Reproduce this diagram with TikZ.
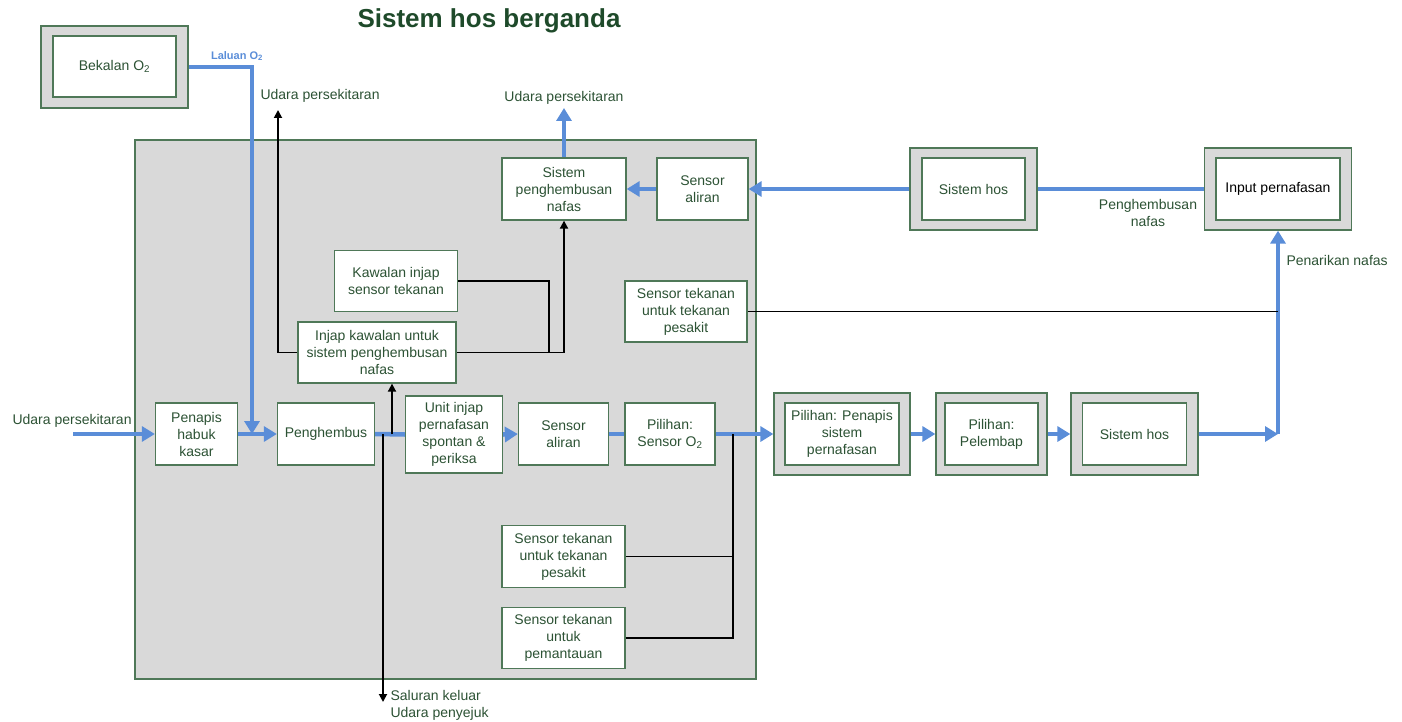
\documentclass[tikz,border=0pt]{standalone}
\usepackage{fontspec}
\setmainfont{Liberation Sans}
\usetikzlibrary{arrows.meta}
\definecolor{hos-text}{HTML}{2C5234}
\definecolor{hos-title}{HTML}{1E4A2A}
\definecolor{hos-edge}{HTML}{4F7858}
\definecolor{hos-grey}{HTML}{D9D9D9}
\definecolor{hos-blue}{HTML}{5A8DD8}

\begin{document}
\begin{tikzpicture}[x=1pt, y=-1pt,
        every node/.style={font=\fontsize{14}{17}\selectfont, text=hos-text, align=center},
        box/.style={draw=hos-edge, line width=1.3pt, fill=white, inner sep=2pt},
        outerbox/.style={draw=hos-edge, line width=1.3pt, fill=hos-grey},
        blueflow/.style={draw=hos-blue, line width=4.5pt},
        blueflowarrow/.style={blueflow, -{Triangle[length=13pt,width=15pt]}},
        wire/.style={draw=black, line width=1.8pt},
        wirearrow/.style={wire, -{Triangle[length=8pt,width=8pt]}}]
      \useasboundingbox (0,0) rectangle (1402,722);
      \node[font=\fontsize{26}{30}\selectfont\bfseries, text=hos-title] (title) at (489,21) {Sistem hos berganda};
      \node[outerbox, minimum width=621, minimum height=539] (cabinet) at (445.5,409.5) {};
      % supply
      \node[outerbox, minimum width=147, minimum height=82] (o2box) at (114.5,67) {};
      \node[box, minimum width=123, minimum height=61] (o2) at (114.5,66.5) {Bekalan O\textsubscript{2}};
      % main row
      \node[box, minimum width=82, minimum height=62] (penapis) at (196.5,434) {Penapis\\habuk\\kasar};
      \node[box, minimum width=97, minimum height=62] (penghembus) at (326,434) {Penghembus};
      \node[box, minimum width=97, minimum height=77] (unitinjap) at (454,434.5) {Unit injap\\pernafasan\\spontan \&\\periksa};
      \node[box, minimum width=90, minimum height=62] (aliran) at (563.5,434) {Sensor\\aliran};
      \node[box, minimum width=90, minimum height=62] (sensoro) at (670,434) {Pilihan:\\Sensor O\textsubscript{2}};
      \node[outerbox, minimum width=136, minimum height=82] (penapissisbox) at (842,434) {};
      \node[box, minimum width=114, minimum height=62] (penapissis) at (842,434) {Pilihan: Penapis\\sistem\\pernafasan};
      \node[outerbox, minimum width=111, minimum height=82] (pelembapbox) at (991.5,434) {};
      \node[box, minimum width=93, minimum height=62] (pelembap) at (991.5,434) {Pilihan:\\Pelembap};
      \node[outerbox, minimum width=127, minimum height=82] (hosbbox) at (1134.5,434) {};
      \node[box, minimum width=104, minimum height=62] (hosb) at (1134.5,434) {Sistem hos};
      % top row
      \node[box, minimum width=124, minimum height=62] (hembus) at (564,189) {Sistem\\penghembusan\\nafas};
      \node[box, minimum width=91, minimum height=62] (aliranatas) at (702.5,189) {Sensor\\aliran};
      \node[outerbox, minimum width=127, minimum height=82] (hosabox) at (973.5,189) {};
      \node[box, minimum width=103, minimum height=62] (hosa) at (973.5,189) {Sistem hos};
      \node[outerbox, minimum width=147, minimum height=82] (inputbox) at (1278,189) {};
      \node[box, minimum width=124, minimum height=62, text=black] (input) at (1278,189) {Input pernafasan};
      % valves and sensors
      \node[box, minimum width=123, minimum height=61] (kawalan) at (396,281) {Kawalan injap\\sensor tekanan};
      \node[box, minimum width=158, minimum height=61] (injapk) at (377,352.5) {Injap kawalan untuk\\sistem penghembusan\\nafas};
      \node[box, minimum width=122, minimum height=61] (tekanana) at (686,311.5) {Sensor tekanan\\untuk tekanan\\pesakit};
      \node[box, minimum width=123, minimum height=62] (tekananb) at (563.5,556.5) {Sensor tekanan\\untuk tekanan\\pesakit};
      \node[box, minimum width=123, minimum height=61] (pantau) at (563.5,638) {Sensor tekanan\\untuk\\pemantauan};
      % labels
      \node[anchor=west] (udarakiri) at (9,421) {Udara persekitaran};
      \node[anchor=west] (udaraatas) at (257,96) {Udara persekitaran};
      \node (udarahembus) at (564,98) {Udara persekitaran};
      \node[font=\fontsize{11}{13}\selectfont\bfseries, text=hos-blue] (laluan) at (237,56) {Laluan O\textsubscript{2}};
      \node (penghembusan) at (1148,213) {Penghembusan\\nafas};
      \node[anchor=west] (penarikan) at (1283,260) {Penarikan nafas};
      \node[anchor=west, align=left] (saluran) at (387,705) {Saluran keluar\\Udara penyejuk};
      \coordinate (udaramasuk) at (73,434);
      \coordinate (o2masuk) at (252,434);
      \coordinate (udarakeluar) at (278,110);
      \coordinate (hembuskeluar) at (564,108);
      \coordinate (simpang) at (549,352.5);
      \coordinate (pintas) at (392,434);
      \coordinate (saluran-a) at (383,434);
      \coordinate (saluran-b) at (383,702);
      \coordinate (sadap) at (733,434);
      \coordinate (tarik) at (1278,434);
      % air path
      \draw[blueflowarrow] (udaramasuk) -- (penapis.west);
      \draw[blueflowarrow] (penapis.east) -- (penghembus.west);
      \draw[blueflowarrow] (o2box.east) -| (o2masuk);
      \draw[blueflow] (penghembus.east) -- (unitinjap.west);
      \draw[blueflowarrow] (unitinjap.east) -- (aliran.west);
      \draw[blueflow] (aliran.east) -- (sensoro.west);
      \draw[blueflowarrow] (sensoro.east) -- (penapissisbox.west);
      \draw[blueflowarrow] (penapissisbox.east) -- (pelembapbox.west);
      \draw[blueflowarrow] (pelembapbox.east) -- (hosbbox.west);
      \draw[blueflowarrow] (hosbbox.east) -- (tarik);
      \draw[blueflowarrow] (tarik) -- (inputbox.south);
      \draw[blueflow] (hosabox.east) -- (inputbox.west);
      \draw[blueflowarrow] (hosabox.west) -- (aliranatas.east);
      \draw[blueflowarrow] (aliranatas.west) -- (hembus.east);
      \draw[blueflowarrow] (hembus.north) -- (hembuskeluar);
      % control lines
      \draw[wirearrow] (injapk.west) -| (udarakeluar);
      \draw[wirearrow] (injapk.east) -| (hembus.south);
      \draw[wire] (kawalan.east) -| (simpang);
      \draw[wirearrow] (pintas) -- (pintas |- injapk.south);
      \draw[wirearrow] (saluran-a) -- (saluran-b);
      \draw[wire] (tekanana.east) -- (tekanana.east -| tarik);
      \draw[wire] (tekananb.east) -| (sadap);
      \draw[wire] (pantau.east) -| (sadap);
    \end{tikzpicture}
\end{document}
